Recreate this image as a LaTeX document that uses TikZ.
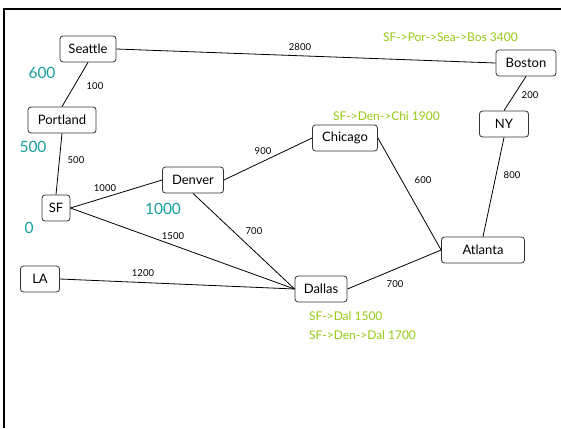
\documentclass[tikz,border=0pt]{standalone}
\usepackage{fontspec}
\setmainfont{Lato}
\usepackage{xcolor}
\usepackage{tikz}
\definecolor{distteal}{RGB}{22,158,158}
\definecolor{pathgreen}{RGB}{150,200,20}

\begin{document}
\begin{tikzpicture}[x=1pt,y=-1pt]
        \tikzset{city/.style={draw=black!80, rounded corners=3pt, fill=white, line width=0.8pt, inner xsep=6pt, minimum height=26pt, font=\fontsize{13}{15}\selectfont}}
        \tikzset{road/.style={line width=0.8pt}}
        \tikzset{weight/.style={font=\fontsize{9.5}{11}\selectfont, inner sep=0pt}}
        \tikzset{dist/.style={text=distteal, font=\fontsize{15.5}{17}\selectfont, inner sep=0pt}}
        \tikzset{route/.style={text=pathgreen, font=\fontsize{12}{14}\selectfont, inner sep=0pt, anchor=west}}

        \useasboundingbox (0,0) rectangle (561,428);
        \draw[line width=2pt] (4,428) -- (4,9) -- (561,9);

	%---NODES---
        \node[city, minimum width=56pt] (sea) at (88,49)  {Seattle};
        \node[city, minimum width=68pt] (por) at (62,120) {Portland};
        \node[city, minimum width=28pt] (sf)  at (56,208) {SF};
        \node[city, minimum width=39pt] (la)  at (40,279) {LA};
        \node[city, minimum width=61pt] (den) at (193,180) {Denver};
        \node[city, minimum width=65pt] (chi) at (345,138) {Chicago};
        \node[city, minimum width=52pt] (dal) at (321,289) {Dallas};
        \node[city, minimum width=83pt] (atl) at (483,250) {Atlanta};
        \node[city, minimum width=49pt] (ny)  at (504,124) {NY};
        \node[city, minimum width=60pt] (bos) at (526,63) {Boston};

	%---EDGES---
        \draw[road] (sea.east)  -- (bos.west) ;
        \draw[road] (sea.south) -- (por.north) ;
        \draw[road] (por.south) -- (sf.north) ;
        \draw[road] (sf.east)   -- (den.west) ;
        \draw[road] (sf.east)   -- (dal.west) ;
        \draw[road] (den.east)  -- (chi.west) ;
        \draw[road] (den.south) -- (dal.west) ;
        \draw[road] (la.east)   -- (dal.west) ;
        \draw[road] (dal.east)  -- (atl.west) ;
        \draw[road] (chi.east)  -- (atl.west) ;
        \draw[road] (bos.south) -- (ny.north) ;
        \draw[road] (ny.south)  -- (atl.north) ;

	%---WEIGHTS---
        \node[weight] (w1) at (300,47)  {2800} ;
        \node[weight] (w2) at (95,86)   {100} ;
        \node[weight] (w3) at (76,160)  {500} ;
        \node[weight] (w4) at (105,188) {1000} ;
        \node[weight] (w5) at (263,151) {900} ;
        \node[weight] (w6) at (173,236) {1500} ;
        \node[weight] (w7) at (254,231) {700} ;
        \node[weight] (w8) at (143,273) {1200} ;
        \node[weight] (w9) at (423,180) {600} ;
        \node[weight] (w10) at (395,284) {700} ;
        \node[weight] (w11) at (530,95) {200} ;
        \node[weight] (w12) at (512,175) {800} ;

	%---DISTANCES---
        \node[dist] (d1) at (42,73)   {600} ;
        \node[dist] (d2) at (33,147)  {500} ;
        \node[dist] (d3) at (163,209) {1000} ;
        \node[dist] (d4) at (29,228)  {0} ;

        \node[route] (r1) at (383,37)  {SF->Por->Sea->Bos 3400} ;
        \node[route] (r2) at (333,116) {SF->Den->Chi 1900} ;
        \node[route] (r3) at (309,316) {SF->Dal 1500} ;
        \node[route] (r4) at (309,335) {SF->Den->Dal 1700} ;
    \end{tikzpicture}
\end{document}
